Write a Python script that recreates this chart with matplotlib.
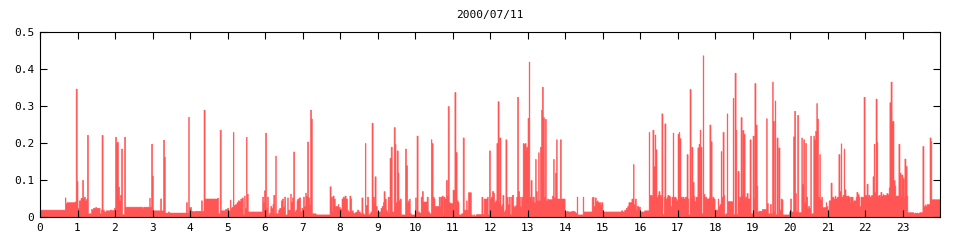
import numpy as np
import matplotlib
matplotlib.use("Agg")
import matplotlib.pyplot as plt

# hour of day at which each value starts (held until the next one)
hours = [0.00, 0.66, 0.68, 0.71, 0.92, 0.95, 0.98, 1.00, 1.03, 1.08, 1.12, 1.15, 1.17, 1.20, 1.23, 1.25, 1.28,
         1.36, 1.39, 1.41, 1.47, 1.50, 1.59, 1.62, 1.64, 1.67, 1.70, 1.75, 1.86, 1.91, 1.95, 1.97,
         2.00, 2.03, 2.08, 2.11, 2.13, 2.16, 2.19, 2.24, 2.27, 2.72, 2.75, 2.91, 2.93, 2.96, 2.99,
         3.01, 3.20, 3.23, 3.28, 3.31, 3.33, 3.41, 3.44, 3.89, 3.92, 3.95, 3.97,
         4.03, 4.08, 4.12, 4.29, 4.32, 4.36, 4.39, 4.72, 4.75, 4.79, 4.82, 4.93, 4.99,
         5.02, 5.06, 5.08, 5.11, 5.14, 5.16, 5.20, 5.24, 5.27, 5.31, 5.34, 5.38, 5.41, 5.44, 5.46, 5.49,
         5.51, 5.54, 5.92, 5.95, 5.97,
         6.00, 6.03, 6.05, 6.08, 6.11, 6.14, 6.17, 6.20, 6.22, 6.25, 6.27, 6.29, 6.35, 6.38, 6.42, 6.45,
         6.48, 6.51, 6.54, 6.59, 6.61, 6.67, 6.69, 6.72, 6.75, 6.78, 6.81, 6.84, 6.86, 6.90, 6.94, 6.97,
         7.01, 7.04, 7.07, 7.09, 7.12, 7.15, 7.18, 7.20, 7.23, 7.25, 7.35, 7.72, 7.75, 7.78, 7.80, 7.83,
         7.86, 7.94, 7.96,
         8.00, 8.04, 8.07, 8.10, 8.12, 8.15, 8.19, 8.21, 8.25, 8.28, 8.30, 8.34, 8.36, 8.39, 8.43, 8.45,
         8.49, 8.53, 8.57, 8.60, 8.63, 8.66, 8.68, 8.72, 8.75, 8.78, 8.81, 8.84, 8.87, 8.90, 8.92, 8.95, 8.98,
         9.08, 9.11, 9.14, 9.16, 9.19, 9.22, 9.24, 9.27, 9.30, 9.32, 9.35, 9.38, 9.43, 9.46, 9.48, 9.51,
         9.54, 9.56, 9.59, 9.62, 9.73, 9.76, 9.79, 9.81, 9.84, 9.86, 9.89,
         10.00, 10.02, 10.04, 10.07, 10.11, 10.15, 10.18, 10.21, 10.31, 10.34, 10.38, 10.42, 10.44, 10.47,
         10.50, 10.52, 10.63, 10.66, 10.68, 10.71, 10.74, 10.76, 10.79, 10.82, 10.85, 10.87, 10.90, 10.93,
         11.00, 11.05, 11.08, 11.11, 11.14, 11.16, 11.23, 11.27, 11.30, 11.36, 11.38, 11.41, 11.49, 11.52,
         11.55, 11.58, 11.61, 11.64, 11.77, 11.80, 11.83, 11.92, 11.94, 11.97,
         12.00, 12.02, 12.05, 12.09, 12.11, 12.14, 12.17, 12.20, 12.23, 12.25, 12.28, 12.31, 12.33, 12.36,
         12.39, 12.41, 12.44, 12.47, 12.50, 12.53, 12.56, 12.58, 12.62, 12.64, 12.67, 12.70, 12.72, 12.75,
         12.78, 12.80, 12.83, 12.87, 12.89, 12.92, 12.95, 12.97,
         13.00, 13.03, 13.05, 13.08, 13.11, 13.13, 13.17, 13.20, 13.22, 13.25, 13.28, 13.30, 13.33, 13.36,
         13.38, 13.41, 13.44, 13.46, 13.49, 13.52, 13.54, 13.65, 13.68, 13.70, 13.73, 13.76, 13.78, 13.86,
         13.89, 13.99,
         14.04, 14.07, 14.17, 14.20, 14.22, 14.24, 14.27, 14.31, 14.33, 14.47, 14.49, 14.71, 14.73, 14.76,
         14.79, 14.82, 14.85, 14.87, 14.94, 14.96,
         15.00, 15.49, 15.53, 15.58, 15.62, 15.66, 15.69, 15.77, 15.81, 15.83, 15.86, 15.89, 15.91, 15.95,
         16.00, 16.11, 16.23, 16.25, 16.31, 16.33, 16.36, 16.39, 16.41, 16.44, 16.47, 16.49, 16.52, 16.55,
         16.57, 16.60, 16.63, 16.65, 16.68, 16.71, 16.73, 16.76, 16.79, 16.81, 16.84, 16.87, 16.89, 16.95, 16.97,
         17.00, 17.03, 17.05, 17.08, 17.11, 17.13, 17.16, 17.19, 17.24, 17.27, 17.29, 17.32, 17.35, 17.37,
         17.40, 17.43, 17.45, 17.48, 17.53, 17.56, 17.59, 17.61, 17.64, 17.67, 17.69, 17.72, 17.77, 17.83,
         17.85, 17.88, 17.91, 17.93, 17.96, 17.99,
         18.07, 18.09, 18.12, 18.15, 18.17, 18.20, 18.23, 18.25, 18.28, 18.31, 18.33, 18.45, 18.47, 18.49,
         18.52, 18.55, 18.57, 18.60, 18.63, 18.65, 18.68, 18.71, 18.73, 18.76, 18.79, 18.81, 18.84, 18.87,
         18.92, 18.95,
         19.00, 19.03, 19.05, 19.08, 19.11, 19.13, 19.16, 19.25, 19.36, 19.38, 19.41, 19.46, 19.49, 19.52,
         19.54, 19.57, 19.59, 19.61, 19.64, 19.67, 19.69, 19.72, 19.75, 19.77, 19.80, 19.98,
         20.00, 20.03, 20.08, 20.11, 20.14, 20.16, 20.19, 20.22, 20.30, 20.32, 20.35, 20.38, 20.40, 20.43,
         20.46, 20.48, 20.51, 20.54, 20.56, 20.62, 20.64, 20.67, 20.70, 20.72, 20.75, 20.78, 20.80, 20.83,
         20.86, 20.95, 20.97,
         21.00, 21.03, 21.08, 21.11, 21.16, 21.19, 21.21, 21.24, 21.29, 21.32, 21.35, 21.37, 21.40, 21.43,
         21.45, 21.48, 21.51, 21.53, 21.56, 21.59, 21.61, 21.67, 21.69, 21.75, 21.77, 21.80, 21.83, 21.85,
         21.88, 21.96, 21.99,
         22.04, 22.07, 22.09, 22.12, 22.15, 22.17, 22.20, 22.23, 22.25, 22.28, 22.31, 22.33, 22.36, 22.39,
         22.41, 22.44, 22.47, 22.49, 22.57, 22.60, 22.63, 22.65, 22.68, 22.71, 22.76, 22.79, 22.81, 22.89,
         22.92, 22.95, 22.97,
         23.00, 23.03, 23.05, 23.08, 23.11, 23.13, 23.29, 23.32, 23.35, 23.37, 23.40, 23.43, 23.45, 23.53,
         23.56, 23.59, 23.61, 23.64, 23.72, 23.75, 23.77]

values = [0.020, 0.053, 0.038, 0.040, 0.042, 0.347, 0.098, 0.025, 0.045, 0.052, 0.100, 0.052, 0.055, 0.045, 0.050, 0.222, 0.010,
          0.022, 0.020, 0.025, 0.027, 0.025, 0.010, 0.020, 0.222, 0.020, 0.015, 0.018, 0.020, 0.018, 0.020, 0.025,
          0.217, 0.203, 0.082, 0.045, 0.060, 0.185, 0.008, 0.217, 0.028, 0.025, 0.028, 0.052, 0.028, 0.198, 0.112,
          0.018, 0.050, 0.018, 0.209, 0.163, 0.012, 0.015, 0.012, 0.040, 0.012, 0.271, 0.027,
          0.017, 0.015, 0.017, 0.045, 0.017, 0.290, 0.050, 0.052, 0.010, 0.236, 0.018, 0.022, 0.025,
          0.018, 0.047, 0.025, 0.028, 0.230, 0.033, 0.035, 0.040, 0.045, 0.043, 0.050, 0.053, 0.008, 0.058, 0.025, 0.217,
          0.063, 0.015, 0.055, 0.040, 0.072,
          0.228, 0.025, 0.055, 0.007, 0.012, 0.030, 0.025, 0.036, 0.060, 0.010, 0.166, 0.010, 0.020, 0.025, 0.045, 0.050,
          0.028, 0.055, 0.007, 0.053, 0.020, 0.063, 0.042, 0.053, 0.177, 0.015, 0.020, 0.045, 0.050, 0.053, 0.015, 0.025,
          0.055, 0.030, 0.066, 0.058, 0.204, 0.053, 0.035, 0.290, 0.266, 0.010, 0.007, 0.083, 0.055, 0.015, 0.058, 0.050,
          0.030, 0.035, 0.027,
          0.023, 0.050, 0.055, 0.050, 0.058, 0.050, 0.020, 0.015, 0.058, 0.050, 0.018, 0.012, 0.010, 0.013, 0.015, 0.020,
          0.015, 0.010, 0.053, 0.010, 0.007, 0.200, 0.033, 0.055, 0.007, 0.010, 0.015, 0.255, 0.055, 0.040, 0.110, 0.030, 0.015,
          0.025, 0.030, 0.040, 0.070, 0.050, 0.020, 0.015, 0.055, 0.010, 0.160, 0.190, 0.015, 0.243, 0.198, 0.040, 0.180,
          0.120, 0.045, 0.050, 0.007, 0.185, 0.140, 0.040, 0.045, 0.050, 0.010, 0.007,
          0.053, 0.015, 0.220, 0.015, 0.012, 0.055, 0.070, 0.042, 0.055, 0.015, 0.010, 0.210, 0.200, 0.055,
          0.050, 0.030, 0.055, 0.030, 0.055, 0.058, 0.007, 0.055, 0.050, 0.100, 0.058, 0.300, 0.040, 0.038,
          0.074, 0.338, 0.176, 0.045, 0.040, 0.007, 0.010, 0.215, 0.020, 0.045, 0.020, 0.067, 0.007, 0.003,
          0.007, 0.003, 0.007, 0.008, 0.055, 0.008, 0.050, 0.055, 0.008, 0.180,
          0.050, 0.055, 0.070, 0.065, 0.040, 0.045, 0.200, 0.313, 0.040, 0.215, 0.030, 0.035, 0.060, 0.015,
          0.020, 0.210, 0.055, 0.035, 0.055, 0.008, 0.055, 0.060, 0.030, 0.028, 0.032, 0.055, 0.325, 0.070,
          0.055, 0.030, 0.055, 0.200, 0.198, 0.200, 0.180, 0.190,
          0.268, 0.420, 0.055, 0.100, 0.045, 0.055, 0.040, 0.157, 0.070, 0.045, 0.175, 0.045, 0.190, 0.290,
          0.352, 0.270, 0.055, 0.265, 0.045, 0.050, 0.048, 0.058, 0.157, 0.053, 0.120, 0.210, 0.050, 0.210,
          0.050, 0.015,
          0.017, 0.015, 0.017, 0.015, 0.017, 0.015, 0.012, 0.055, 0.007, 0.055, 0.015, 0.053, 0.055, 0.030,
          0.053, 0.042, 0.045, 0.040, 0.035, 0.040,
          0.015, 0.018, 0.015, 0.020, 0.025, 0.030, 0.040, 0.050, 0.143, 0.035, 0.050, 0.020, 0.030, 0.028,
          0.015, 0.018, 0.230, 0.060, 0.055, 0.236, 0.137, 0.223, 0.183, 0.055, 0.060, 0.070, 0.060, 0.055,
          0.280, 0.008, 0.055, 0.253, 0.050, 0.055, 0.060, 0.058, 0.055, 0.030, 0.055, 0.228, 0.055, 0.050, 0.045,
          0.225, 0.230, 0.213, 0.055, 0.050, 0.055, 0.050, 0.055, 0.170, 0.050, 0.007, 0.346, 0.055, 0.190,
          0.095, 0.057, 0.043, 0.055, 0.188, 0.198, 0.236, 0.190, 0.010, 0.437, 0.063, 0.055, 0.050, 0.053,
          0.250, 0.205, 0.050, 0.055, 0.050, 0.020,
          0.050, 0.030, 0.035, 0.178, 0.055, 0.230, 0.060, 0.008, 0.010, 0.280, 0.043, 0.040, 0.322, 0.008,
          0.390, 0.236, 0.008, 0.125, 0.040, 0.055, 0.270, 0.060, 0.235, 0.225, 0.050, 0.055, 0.065, 0.050,
          0.210, 0.010,
          0.220, 0.050, 0.362, 0.250, 0.085, 0.015, 0.017, 0.022, 0.267, 0.038, 0.010, 0.035, 0.010, 0.366,
          0.260, 0.015, 0.315, 0.008, 0.215, 0.008, 0.188, 0.020, 0.050, 0.048, 0.007, 0.015,
          0.050, 0.015, 0.218, 0.287, 0.065, 0.015, 0.276, 0.013, 0.215, 0.090, 0.210, 0.040, 0.200, 0.055,
          0.025, 0.030, 0.025, 0.220, 0.010, 0.220, 0.210, 0.233, 0.308, 0.266, 0.055, 0.170, 0.048, 0.055,
          0.027, 0.040, 0.030,
          0.020, 0.045, 0.093, 0.055, 0.050, 0.058, 0.050, 0.055, 0.170, 0.070, 0.199, 0.055, 0.060, 0.185,
          0.075, 0.058, 0.055, 0.058, 0.055, 0.040, 0.055, 0.040, 0.045, 0.055, 0.068, 0.062, 0.055, 0.030,
          0.055, 0.325, 0.060,
          0.090, 0.055, 0.060, 0.055, 0.058, 0.060, 0.110, 0.198, 0.068, 0.320, 0.203, 0.058, 0.060, 0.055,
          0.068, 0.058, 0.062, 0.060, 0.065, 0.062, 0.080, 0.310, 0.366, 0.260, 0.100, 0.085, 0.058, 0.198,
          0.120, 0.058, 0.115,
          0.105, 0.055, 0.158, 0.138, 0.058, 0.013, 0.010, 0.012, 0.010, 0.012, 0.010, 0.012, 0.013, 0.192,
          0.030, 0.034, 0.030, 0.035, 0.215, 0.205, 0.048]

title = "2000/07/11"
x_ticks = list(range(24))
y_ticks = [0, 0.1, 0.2, 0.3, 0.4, 0.5]
y_labels = ["0", "0.1", "0.2", "0.3", "0.4", "0.5"]

fig = plt.figure(figsize=(9.6, 2.4), dpi=100)
ax = fig.add_axes([40/960, 23/240, 900/960, 185/240])

t = np.append(hours, 24.0)
v = np.append(values, values[-1])
# thin edge so that one-sample spikes stay at least one pixel wide
ax.fill_between(t, v, step='post', facecolor='#ff5555', edgecolor='#ff5555',
                linewidth=0.4, antialiased=False)

ax.set_xlim(0, 24)
ax.set_ylim(0, 0.5)
ax.set_xticks(x_ticks)
ax.set_xticklabels([str(x) for x in x_ticks])
ax.set_yticks(y_ticks)
ax.set_yticklabels(y_labels)
ax.tick_params(direction='in', length=5, width=0.8, top=True, right=True,
               labelsize=8, pad=4, colors='black')
for lab in ax.get_xticklabels() + ax.get_yticklabels():
    lab.set_family('DejaVu Sans Mono')
for s in ax.spines.values():
    s.set_linewidth(0.8)
    s.set_zorder(3)

fig.text(490/960, 1 - 15/240, title, ha='center', va='center', fontsize=8, family='DejaVu Sans Mono')

fig.savefig("out.png", dpi=100)
